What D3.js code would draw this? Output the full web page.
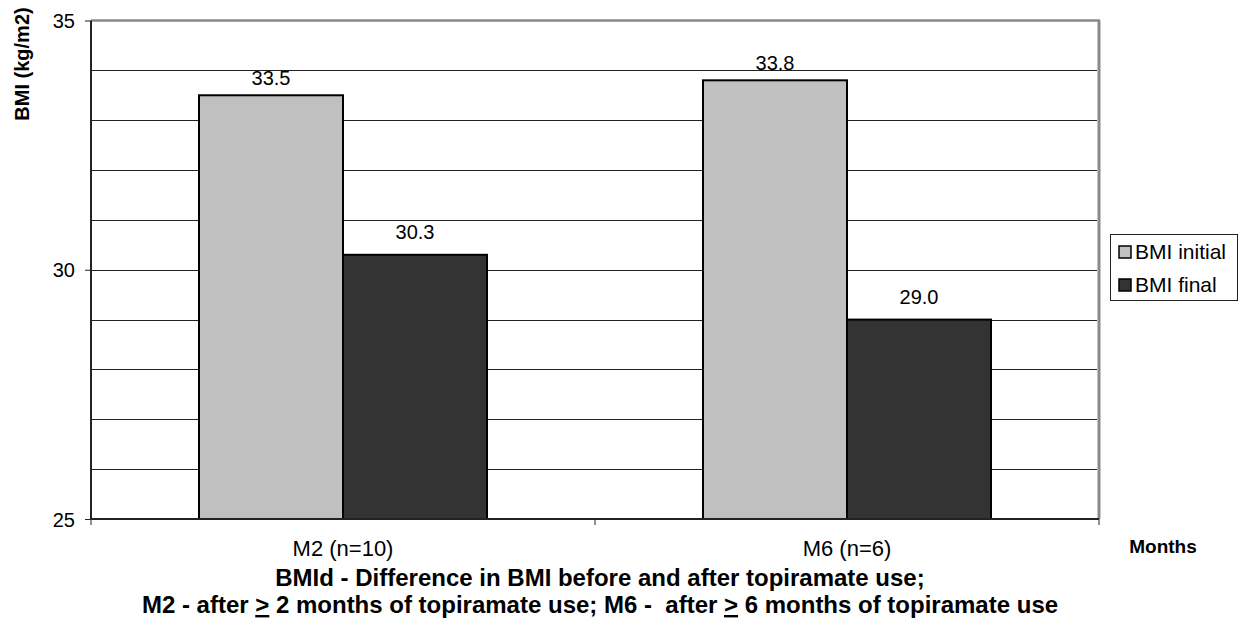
<!DOCTYPE html>
<html>
<head>
<meta charset="utf-8">
<script src="https://cdn.jsdelivr.net/npm/d3@7"></script>
<style>
  html, body { margin: 0; padding: 0; background: #fff; }
  svg { display: block; font-family: "Liberation Sans", Arial, sans-serif; }
</style>
</head>
<body>
<svg id="chart" width="1239" height="622"></svg>
<script>
// ---- data ----
const categories = ["M2 (n=10)", "M6 (n=6)"];
const seriesNames = ["BMI initial", "BMI final"];
const bmiInitial = [33.5, 33.8];
const bmiFinal = [30.3, 29.0];
const yTickLabels = [25, 30, 35];
const yTitle = "BMI (kg/m2)";
const xTitle = "Months";
const footnote1 = "BMId - Difference in BMI before and after topiramate use;";
// ">" drawn underlined, as in the original ("greater than or equal")
const footnote2 = ["M2 - after ", ">", " 2 months of topiramate use; M6 -  after ", ">", " 6 months of topiramate use"];

// ---- layout ----
const svg = d3.select("#chart");
const L = 91, R = 1099, T = 20.5, B = 519;
const colors = ["#C0C0C0", "#333333"];
const labelOffset = [10, 16];

const x0 = d3.scaleBand().domain(categories).range([L, R]).paddingInner(0).paddingOuter(0);
const barW = x0.bandwidth() * (144 / 504);
const xs = d3.scaleBand().domain(seriesNames).range([x0.bandwidth()/2 - barW, x0.bandwidth()/2 + barW]);

const y = d3.scaleLinear().domain([25, 35]).range([B, T]);

// gridlines every 1 unit
const gridVals = d3.range(26, 35, 1);
svg.append("g").selectAll("line").data(gridVals).join("line")
  .attr("x1", L).attr("x2", R - 2)
  .attr("y1", d => Math.round(y(d)) + 0.5).attr("y2", d => Math.round(y(d)) + 0.5)
  .attr("stroke", "#222").attr("stroke-width", 1);

// plot border (top & right gray)
svg.append("line").attr("x1", L).attr("x2", R + 1).attr("y1", T).attr("y2", T)
  .attr("stroke", "#8a8a8a").attr("stroke-width", 2.5);
svg.append("line").attr("x1", R).attr("x2", R).attr("y1", T).attr("y2", B)
  .attr("stroke", "#8a8a8a").attr("stroke-width", 3);

// bars
const data = categories.map((c, i) => ({ cat: c, vals: [bmiInitial[i], bmiFinal[i]] }));
const groups = svg.append("g").selectAll("g").data(data).join("g")
  .attr("transform", d => `translate(${x0(d.cat)},0)`);
groups.selectAll("rect").data(d => d.vals.map((v, j) => ({ v, j }))).join("rect")
  .attr("x", d => xs(seriesNames[d.j]))
  .attr("width", xs.bandwidth())
  .attr("y", d => y(d.v))
  .attr("height", d => y(25) - y(d.v))
  .attr("fill", d => colors[d.j])
  .attr("stroke", "#000").attr("stroke-width", 2);
groups.selectAll("text").data(d => d.vals.map((v, j) => ({ v, j }))).join("text")
  .attr("x", d => xs(seriesNames[d.j]) + xs.bandwidth() / 2)
  .attr("y", d => y(d.v) - labelOffset[d.j])
  .attr("text-anchor", "middle")
  .attr("font-size", 20)
  .attr("fill", "#000")
  .text(d => d3.format(".1f")(d.v));

// y axis
const yAxis = d3.axisLeft(y).tickValues(yTickLabels).tickSize(6).tickPadding(10).tickFormat(d3.format("d"));
const yg = svg.append("g").attr("transform", `translate(${L},0)`).call(yAxis);
yg.select(".domain").attr("stroke", "#222").attr("stroke-width", 2).attr("d", `M0,${T}V${B}`);
yg.selectAll(".tick line").attr("stroke", "#222").attr("stroke-width", 1);
yg.selectAll(".tick text").attr("font-size", 20).attr("font-family", "Liberation Sans, Arial, sans-serif").attr("fill", "#000").attr("dy", "0.35em");

// x axis
const xAxis = d3.axisBottom(x0).tickSize(0).tickPadding(0);
const xg = svg.append("g").attr("transform", `translate(0,${B})`).call(xAxis);
xg.select(".domain").attr("stroke", "#222").attr("stroke-width", 2).attr("d", `M${L},0H${R}`);
xg.selectAll(".tick text").attr("font-size", 22).attr("font-family", "Liberation Sans, Arial, sans-serif").attr("fill", "#000").attr("dy", 0).attr("y", 37);
const bounds = [L, ...categories.map(c => x0(c) + x0.bandwidth())];
xg.selectAll("line.bound").data(bounds).join("line").attr("class", "bound")
  .attr("x1", d => d).attr("x2", d => d).attr("y1", 0).attr("y2", 6)
  .attr("stroke", "#222").attr("stroke-width", 1);

// axis titles
svg.append("text").attr("transform", "translate(29,64) rotate(-90)")
  .attr("text-anchor", "middle").attr("font-size", 20).attr("font-weight", "bold").text(yTitle);
svg.append("text").attr("x", 1163).attr("y", 553)
  .attr("text-anchor", "middle").attr("font-size", 19).attr("font-weight", "bold").text(xTitle);

// footnotes
svg.append("text").attr("x", 600).attr("y", 586)
  .attr("text-anchor", "middle").attr("font-size", 24).attr("font-weight", "bold").text(footnote1);
const f2 = svg.append("text").attr("x", 600).attr("y", 613)
  .attr("text-anchor", "middle").attr("font-size", 24).attr("font-weight", "bold")
  .style("white-space", "pre");
footnote2.forEach(s => {
  const t = f2.append("tspan").text(s);
  if (s === ">") t.attr("text-decoration", "underline");
});

// legend
const lg = svg.append("g");
lg.append("rect").attr("x", 1110.5).attr("y", 234.5).attr("width", 127).attr("height", 66)
  .attr("fill", "#fff").attr("stroke", "#222").attr("stroke-width", 1);
seriesNames.forEach((s, i) => {
  const cy = 252 + i * 33;
  lg.append("rect").attr("x", 1119).attr("y", cy - 6).attr("width", 12).attr("height", 12)
    .attr("fill", colors[i]).attr("stroke", "#000").attr("stroke-width", 1.5);
  lg.append("text").attr("x", 1135).attr("y", cy).attr("dy", "0.35em")
    .attr("font-size", 21).text(s);
});
</script>
</body>
</html>
